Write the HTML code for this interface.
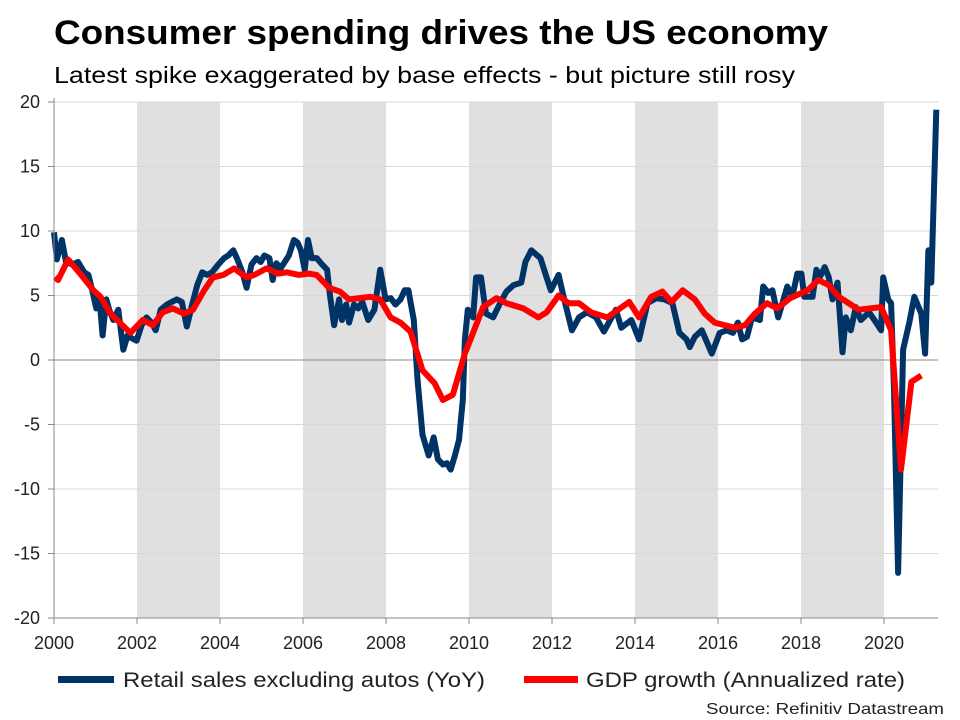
<!DOCTYPE html>
<html><head><meta charset="utf-8"><style>
body{margin:0;background:#fff;}
svg{display:block;font-family:"Liberation Sans",Arial,sans-serif;}
</style></head><body>
<svg id="chart" width="960" height="720" viewBox="0 0 960 720">
<text x="54" y="44" font-size="34" font-weight="bold" fill="#000" textLength="774" lengthAdjust="spacingAndGlyphs">Consumer spending drives the US economy</text>
<text x="54" y="83" font-size="23" fill="#000" textLength="741" lengthAdjust="spacingAndGlyphs">Latest spike exaggerated by base effects - but picture still rosy</text>
<g id="bands"></g>
<g id="grid"></g>
<g id="series"></g>
<g id="axes"></g>
<g>
<rect x="58" y="676" width="56" height="7" fill="#003366"/>
<text x="123" y="687" font-size="21" fill="#222" textLength="362" lengthAdjust="spacingAndGlyphs">Retail sales excluding autos (YoY)</text>
<rect x="524" y="676" width="54" height="7" fill="#ff0000"/>
<text x="586" y="687" font-size="21" fill="#222" textLength="319" lengthAdjust="spacingAndGlyphs">GDP growth (Annualized rate)</text>
</g>
<text x="944" y="714" font-size="16" text-anchor="end" fill="#222" textLength="238" lengthAdjust="spacingAndGlyphs">Source: Refinitiv Datastream</text>
</svg>
<script>
const retailYears=[0,.07,.19,.29,.44,.58,.73,.83,.92,1.02,1.09,1.17,1.26,1.33,1.43,1.55,1.67,1.77,1.87,1.99,2.11,2.23,2.35,2.45,2.57,2.72,2.84,2.96,3.08,3.20,3.33,3.45,3.57,3.69,3.81,3.96,4.10,4.20,4.32,4.42,4.54,4.64,4.76,4.88,4.98,5.07,5.19,5.27,5.36,5.46,5.56,5.66,5.78,5.87,5.95,6.04,6.12,6.21,6.33,6.46,6.58,6.65,6.75,6.87,6.94,7.04,7.11,7.23,7.33,7.43,7.57,7.72,7.86,7.99,8.11,8.23,8.35,8.45,8.54,8.67,8.76,8.88,9.03,9.15,9.25,9.37,9.47,9.56,9.66,9.76,9.85,9.90,9.97,10.10,10.17,10.29,10.41,10.58,10.75,10.90,11.07,11.26,11.36,11.50,11.72,11.87,11.97,12.16,12.28,12.48,12.65,12.84,13.06,13.25,13.54,13.67,13.91,14.10,14.30,14.51,14.71,14.90,15.07,15.24,15.32,15.44,15.61,15.85,16.04,16.21,16.36,16.48,16.58,16.70,16.82,17.01,17.09,17.21,17.31,17.45,17.67,17.79,17.91,18.01,18.08,18.28,18.37,18.45,18.57,18.67,18.76,18.88,19.00,19.08,19.20,19.32,19.44,19.64,19.81,19.93,19.98,20.10,20.17,20.24,20.34,20.46,20.61,20.73,20.90,20.99,21.07,21.14,21.26];
const retailValues=[9.9,7.8,9.3,7.6,7.4,7.6,6.8,6.6,5.4,4,5,1.9,4.7,3.9,3.1,3.9,0.8,1.9,1.7,1.5,2.7,3.3,2.9,2.3,3.9,4.3,4.5,4.7,4.5,2.6,4.3,5.8,6.8,6.6,6.8,7.4,7.9,8.1,8.5,7.8,6.8,5.6,7.4,7.9,7.6,8.1,7.9,6.2,7.5,7.1,7.6,8.1,9.3,9.1,8.5,7.0,9.3,7.9,7.9,7.4,7.0,5,2.7,4.7,3.1,4.3,2.9,4.3,4,4.5,3.1,3.9,7,4.7,4.8,4.3,4.7,5.4,5.4,3.1,-1.5,-5.8,-7.4,-6,-7.7,-8.1,-8,-8.5,-7.4,-6.2,-3.1,1.6,3.9,3.3,6.4,6.4,3.6,3.3,4.4,5.3,5.8,6,7.6,8.5,7.9,6.4,5.4,6.6,4.9,2.3,3.3,3.7,3.3,2.2,3.9,2.5,3.1,1.6,4.4,4.8,4.7,4.4,2.1,1.6,1,1.8,2.3,0.5,2.1,2.3,2.1,2.9,1.6,1.8,3.3,3.1,5.7,5.2,5.4,3.3,5.7,4.9,6.7,6.7,4.9,4.9,7,6.4,7.2,6.4,4.7,6,0.6,3.3,2.3,4.1,3.1,3.7,2.9,2.3,6.4,4.7,4.4,-2.3,-16.5,0.8,2.9,4.9,3.6,0.5,8.5,6,19.4];
const gdpYears=[.02,.10,.34,.63,.95,1.12,1.36,1.84,2.14,2.38,2.62,2.86,3.13,3.35,3.62,3.83,4.08,4.34,4.64,4.83,5.12,5.41,5.61,5.90,6.14,6.33,6.63,6.89,7.11,7.62,7.86,8.11,8.35,8.59,8.88,9.17,9.37,9.61,9.90,10.34,10.66,10.90,11.31,11.67,11.87,12.16,12.40,12.65,12.94,13.33,13.86,14.10,14.39,14.66,14.88,15.15,15.44,15.68,15.92,16.41,16.65,16.89,17.18,17.43,17.74,18.16,18.42,18.67,18.91,19.39,19.93,20.17,20.41,20.66,20.90];
const gdpValues=[6.4,6.2,7.8,6.7,5.4,4.9,3.6,2.1,3.1,2.7,3.7,4.0,3.6,3.9,5.4,6.4,6.6,7.1,6.4,6.6,7.1,6.7,6.8,6.6,6.7,6.6,5.6,5.3,4.7,4.9,4.7,3.3,2.9,2.2,-0.8,-1.8,-3.1,-2.7,0.5,4.1,4.8,4.4,4.0,3.3,3.7,5.0,4.4,4.4,3.7,3.3,4.5,3.3,4.9,5.3,4.5,5.4,4.7,3.6,2.9,2.5,2.7,3.6,4.4,4.0,4.8,5.4,6.2,5.8,4.9,3.9,4.1,2.3,-8.5,-1.7,-1.2];
const yTicks=[20,15,10,5,0,-5,-10,-15,-20];
const xTickYears=[2000,2002,2004,2006,2008,2010,2012,2014,2016,2018,2020];
const bandStarts=[2002,2006,2010,2014,2018];

const NS='http://www.w3.org/2000/svg';
const X0=54,X1=938,Y_TOP=102,Y_BOT=618;
const xS=y=>X0+(y-2000)*41.5;
const xR=t=>X0+t*41.5;
const yS=v=>Y_BOT-(v+20)/40*(Y_BOT-Y_TOP);
function mk(tag,attrs,parent){const e=document.createElementNS(NS,tag);for(const k in attrs)e.setAttribute(k,attrs[k]);parent.appendChild(e);return e;}
const bands=document.getElementById('bands'),grid=document.getElementById('grid'),series=document.getElementById('series'),axes=document.getElementById('axes');
bandStarts.forEach(b=>{const r=mk('rect',{x:xS(b),y:Y_TOP,width:xS(b+2)-xS(b),height:Y_BOT-Y_TOP,fill:'#e0e0e0'},bands);

});
yTicks.forEach(v=>{const y=yS(v);
const l=mk('line',{x1:X0,x2:X1,y1:y,y2:y,stroke:v===0?'#888':'#d9d9d9','stroke-width':1},grid);


const t=mk('line',{x1:X0-6,x2:X0,y1:y,y2:y,stroke:'#888'},axes);


const tx=mk('text',{x:X0-14,y:y+6,'font-size':18,'text-anchor':'end',fill:'#222'},axes);tx.textContent=v;

});
const ya=mk('line',{x1:X0,x2:X0,y1:Y_TOP-4,y2:Y_BOT,stroke:'#888'},axes);


const xa=mk('line',{x1:X0,x2:X1,y1:Y_BOT,y2:Y_BOT,stroke:'#888'},axes);


xTickYears.forEach(yr=>{const x=xS(yr);
const t=mk('line',{x1:x,x2:x,y1:Y_BOT,y2:Y_BOT+6,stroke:'#888'},axes);


const tx=mk('text',{x:x,y:Y_BOT+31,'font-size':18,'text-anchor':'middle',fill:'#222'},axes);tx.textContent=yr;

});
function line(xs,vs,color,w,name){const d=xs.map((t,i)=>(i?'L':'M')+xR(t).toFixed(1)+' '+yS(vs[i]).toFixed(1)).join('');
const p=mk('path',{d:d,fill:'none',stroke:color,'stroke-width':w,'stroke-linejoin':'round','stroke-linecap':'butt'},series);

}
line(retailYears,retailValues,'#003366',6,'retail-sales-line');
line(gdpYears,gdpValues,'#ff0000',6,'gdp-growth-line');
</script>
</body></html>
